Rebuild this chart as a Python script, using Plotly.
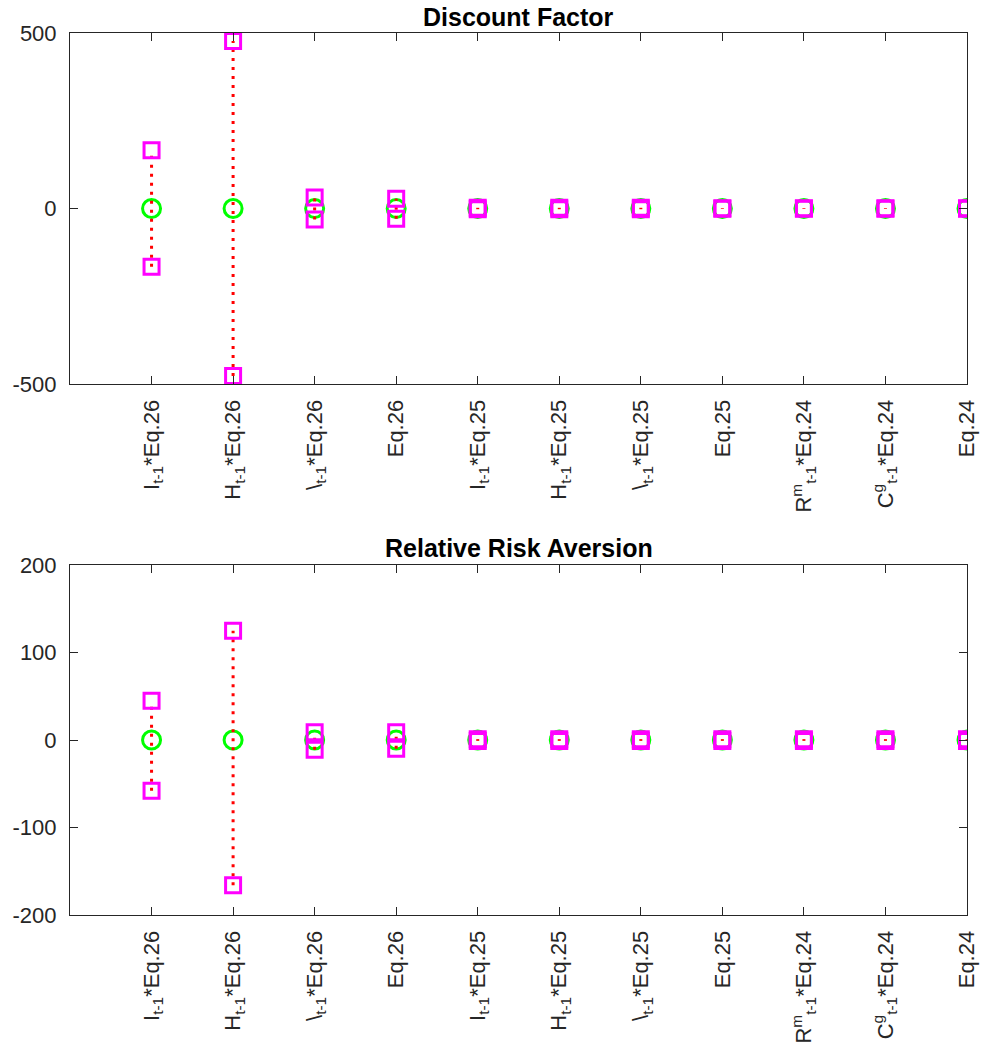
import plotly.graph_objects as go

# ---------------- data ----------------
categories = [1, 2, 3, 4, 5, 6, 7, 8, 9, 10, 11]
tick_labels = [
    "I<sub>t-1</sub>*Eq.26",
    "H<sub>t-1</sub>*Eq.26",
    "\\<sub>t-1</sub>*Eq.26",
    "Eq.26",
    "I<sub>t-1</sub>*Eq.25",
    "H<sub>t-1</sub>*Eq.25",
    "\\<sub>t-1</sub>*Eq.25",
    "Eq.25",
    "R<sup>m</sup><sub>t-1</sub>*Eq.24",
    "C<sup>g</sup><sub>t-1</sub>*Eq.24",
    "Eq.24",
]

df_point = [0, 0, 0, 0, 0, 0, 0, 0, 0, 0, 0]
df_lower = [-166, -477, -31, -29, -2, -2, -2, -1, -1, -1, -1]
df_upper = [166, 477, 31, 28, 2, 2, 2, 1, 1, 1, 1]

rra_point = [0, 0, 0, 0, 0, 0, 0, 0, 0, 0, 0]
rra_lower = [-58, -166, -11, -10, -1, -1, -1, -1, -1, -1, -1]
rra_upper = [45, 125, 9, 9, 1, 1, 1, 1, 1, 1, 1]

titles = ["Discount Factor", "Relative Risk Aversion"]
df_ticks = [-500, 0, 500]
df_tick_text = ["-500", "0", "500"]
rra_ticks = [-200, -100, 0, 100, 200]
rra_tick_text = ["-200", "-100", "0", "100", "200"]

# ---------------- figure ----------------
W, H = 984, 1047
FONT = "Liberation Sans, Arial, sans-serif"
AX = "#262626"

fig = go.Figure()


def add_panel(point, lower, upper, xa, ya):
    # green circles (point estimates)
    fig.add_trace(go.Scatter(
        x=categories, y=point, mode="markers", xaxis=xa, yaxis=ya,
        marker=dict(symbol="circle-open", size=18, color="#00ff00",
                    line=dict(width=3, color="#00ff00")),
        showlegend=False, hoverinfo="skip"))
    # red dotted intervals
    xs, ys = [], []
    for c, lo, hi in zip(categories, lower, upper):
        xs += [c, c, None]
        ys += [lo, hi, None]
    fig.add_trace(go.Scatter(
        x=xs, y=ys, mode="lines", xaxis=xa, yaxis=ya,
        line=dict(color="#ff0000", width=3, dash="3px,6px"),
        showlegend=False, hoverinfo="skip"))
    # magenta squares at interval ends
    fig.add_trace(go.Scatter(
        x=categories + categories, y=list(lower) + list(upper),
        mode="markers", xaxis=xa, yaxis=ya,
        marker=dict(symbol="square-open", size=15, color="#ff00ff",
                    line=dict(width=3, color="#ff00ff")),
        showlegend=False, hoverinfo="skip"))


add_panel(df_point, df_lower, df_upper, "x", "y")
add_panel(rra_point, rra_lower, rra_upper, "x2", "y2")

# pixel layout
L, R = 70, 967
top1, bot1 = 33, 384
top2, bot2 = 565, 915


def ydom(top, bot):
    return [1 - bot / H, 1 - top / H]


xcommon = dict(
    range=[0, 11], tickmode="array", tickvals=categories, ticktext=tick_labels,
    tickangle=-90, ticks="inside", ticklen=8, tickwidth=1, tickcolor=AX,
    showline=True, linecolor=AX, linewidth=1, mirror="ticks",
    showgrid=False, zeroline=False, automargin=False,
    tickfont=dict(family=FONT, size=22, color=AX),
    domain=[L / W, R / W], ticklabelstandoff=6,
)
ycommon = dict(
    ticks="inside", ticklen=8, tickwidth=1, tickcolor=AX, tickmode="array",
    showline=True, linecolor=AX, linewidth=1, mirror="ticks",
    showgrid=False, zeroline=False, automargin=False,
    tickfont=dict(family=FONT, size=22, color=AX), ticklabelstandoff=8,
)

fig.update_layout(
    width=W, height=H,
    margin=dict(l=0, r=0, t=0, b=0),
    paper_bgcolor="white", plot_bgcolor="white",
    xaxis=dict(**xcommon, anchor="y"),
    xaxis2=dict(**xcommon, anchor="y2"),
    yaxis=dict(**ycommon, anchor="x", domain=ydom(top1, bot1),
               range=[-500, 500], tickvals=df_ticks, ticktext=df_tick_text),
    yaxis2=dict(**ycommon, anchor="x2", domain=ydom(top2, bot2),
                range=[-200, 200], tickvals=rra_ticks, ticktext=rra_tick_text),
    annotations=[
        dict(text="<b>" + titles[0] + "</b>", x=(L + R) / 2 / W, y=1 - 17 / H,
             xref="paper", yref="paper", showarrow=False,
             font=dict(family=FONT, size=25, color="black"),
             xanchor="center", yanchor="middle"),
        dict(text="<b>" + titles[1] + "</b>", x=(L + R) / 2 / W, y=1 - 548 / H,
             xref="paper", yref="paper", showarrow=False,
             font=dict(family=FONT, size=25, color="black"),
             xanchor="center", yanchor="middle"),
    ],
)

fig.write_html("out.html", config={"displayModeBar": False},
               post_script="document.body.style.margin='0px';")
